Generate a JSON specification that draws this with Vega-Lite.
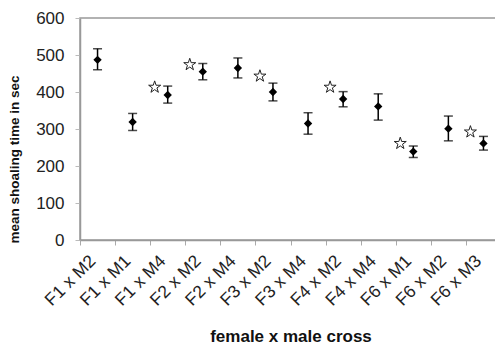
{
  "$schema": "https://vega.github.io/schema/vega-lite/v6.json",
  "autosize": {"type": "none"},
  "padding": {"left": 80, "top": 18, "right": 0, "bottom": 108},
  "width": 421,
  "height": 222,
  "background": "white",
  "config": {
    "font": "Liberation Sans",
    "view": {"stroke": "#999", "strokeWidth": 1.5},
    "axis": {"labelOverlap": false},
    "axisY": {"labelOverlap": false, "tickCount": 7}
  },
  "data": {
    "values": [
      {"cross": "F1 x M2", "mean": 487, "lo": 460, "hi": 517, "expected": null},
      {"cross": "F1 x M1", "mean": 319, "lo": 296, "hi": 342, "expected": null},
      {"cross": "F1 x M4", "mean": 392, "lo": 370, "hi": 416, "expected": 413},
      {"cross": "F2 x M2", "mean": 455, "lo": 433, "hi": 477, "expected": 474},
      {"cross": "F2 x M4", "mean": 465, "lo": 438, "hi": 492, "expected": null},
      {"cross": "F3 x M2", "mean": 400, "lo": 376, "hi": 424, "expected": 443},
      {"cross": "F3 x M4", "mean": 315, "lo": 286, "hi": 344, "expected": null},
      {"cross": "F4 x M2", "mean": 381, "lo": 360, "hi": 401, "expected": 413},
      {"cross": "F4 x M4", "mean": 361, "lo": 324, "hi": 395, "expected": null},
      {"cross": "F6 x M1", "mean": 239, "lo": 223, "hi": 254, "expected": 261},
      {"cross": "F6 x M2", "mean": 301, "lo": 268, "hi": 335, "expected": null},
      {"cross": "F6 x M3", "mean": 261, "lo": 243, "hi": 280, "expected": 292}
    ]
  },
  "encoding": {
    "x": {
      "field": "cross",
      "type": "nominal",
      "sort": null,
      "scale": {"paddingInner": 0, "paddingOuter": 0},
      "axis": {
        "title": "female x male cross",
        "titleFont": "Liberation Sans",
        "titleFontSize": 17,
        "titleFontWeight": "bold",
        "titleColor": "#111",
        "titlePadding": 20,
        "labelAngle": -45,
        "labelAlign": "right",
        "labelBaseline": "middle",
        "labelFontSize": 17.5,
        "labelColor": "#222",
        "labelPadding": 13,
        "labelOffset": -5,
        "labelOverlap": false,
        "tickBand": "extent",
        "tickSize": 5,
        "tickColor": "#aaa",
        "domainColor": "#999",
        "domainWidth": 1.5,
        "grid": false
      }
    }
  },
  "layer": [
    {
      "mark": {"type": "rule", "color": "black", "strokeWidth": 1.5},
      "encoding": {
        "y": {
          "field": "lo",
          "type": "quantitative",
          "scale": {"domain": [0, 600], "nice": false},
          "axis": {
            "title": "mean shoaling time in sec",
            "titleFontSize": 13.5,
            "titleFontWeight": "bold",
            "titleColor": "#111",
            "titleY": 141,
            "titleX": -59,
            "titleAngle": -90,
            "values": [0, 100, 200, 300, 400, 500, 600],
            "labelFontSize": 17,
            "labelColor": "#222",
            "labelPadding": 11,
            "labelOverlap": false,
            "labelFlush": false,
            "tickSize": 5,
            "tickColor": "#bbb",
            "domainColor": "#999",
            "domainWidth": 1.5,
            "grid": false
          }
        },
        "y2": {"field": "hi"}
      }
    },
    {
      "mark": {"type": "tick", "color": "black", "thickness": 1.5, "size": 9},
      "encoding": {"y": {"field": "lo", "type": "quantitative", "axis": {"labelOverlap": false}}}
    },
    {
      "mark": {"type": "tick", "color": "black", "thickness": 1.5, "size": 9},
      "encoding": {"y": {"field": "hi", "type": "quantitative", "axis": {"labelOverlap": false}}}
    },
    {
      "mark": {"type": "point", "shape": "diamond", "filled": true, "color": "black", "size": 70, "opacity": 1},
      "encoding": {"y": {"field": "mean", "type": "quantitative", "axis": {"labelOverlap": false}}}
    },
    {
      "transform": [{"filter": "datum.expected != null"}],
      "mark": {
        "type": "point",
        "shape": "M0,-1L0.2245,-0.309L0.951,-0.309L0.3633,0.118L0.5878,0.809L0,0.382L-0.5878,0.809L-0.3633,0.118L-0.951,-0.309L-0.2245,-0.309Z",
        "filled": false,
        "fill": "white",
        "stroke": "#222",
        "strokeWidth": 1,
        "size": 160,
        "opacity": 1
      },
      "encoding": {
        "y": {"field": "expected", "type": "quantitative", "axis": {"labelOverlap": false}},
        "xOffset": {"value": 4.5}
      }
    }
  ]
}
